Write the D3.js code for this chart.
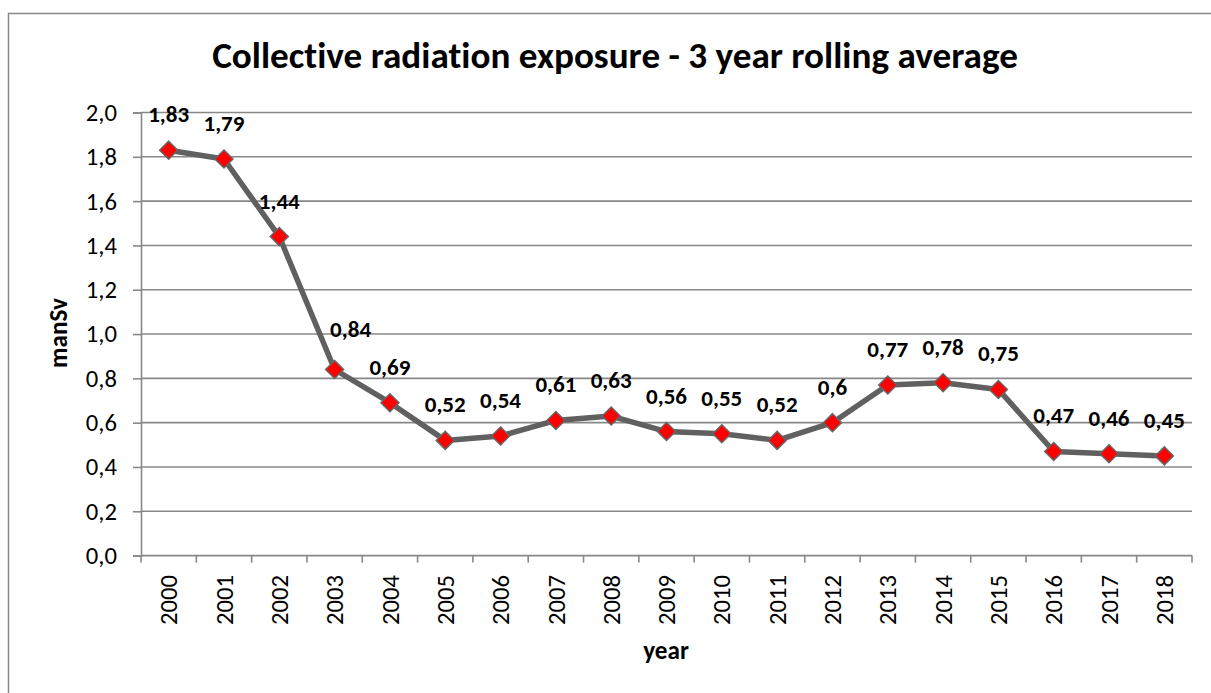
<!DOCTYPE html>
<html>
<head>
<meta charset="utf-8">
<script src="https://cdn.jsdelivr.net/npm/d3@7"></script>
<style>
  html, body { margin: 0; padding: 0; background: #fff; }
  svg { display: block; }
  text { font-family: Carlito, Lato, "Open Sans", sans-serif; fill: #000; font-variant-ligatures: none; }
</style>
</head>
<body>
<svg id="chart" width="1211" height="693"></svg>
<script>
const years = ["2000","2001","2002","2003","2004","2005","2006","2007","2008","2009",
               "2010","2011","2012","2013","2014","2015","2016","2017","2018"];
const values = [1.83, 1.79, 1.44, 0.84, 0.69, 0.52, 0.54, 0.61, 0.63, 0.56,
                0.55, 0.52, 0.6, 0.77, 0.78, 0.75, 0.47, 0.46, 0.45];
const yTicks = [0, 0.2, 0.4, 0.6, 0.8, 1.0, 1.2, 1.4, 1.6, 1.8, 2.0];
const titleText = "Collective radiation exposure - 3 year rolling average";
const yTitle = "manSv";
const xTitle = "year";

const svg = d3.select("#chart");
const gridColor = "#888888";
const lineColor = "#606060";

// font size that makes a sample string reach a given width
function fitSize(sample, weight, targetW) {
  const t = svg.append("text").attr("font-size", 20).attr("font-weight", weight).text(sample);
  const w = t.node().getComputedTextLength();
  t.remove();
  return 20 * targetW / w;
}
const tickSize = fitSize("2000", "normal", 50);
const labelSize = fitSize("1,83", "bold", 41);
const axisTitleSize = fitSize("manSv", "bold", 70);

// outer frame (right and bottom edges lie outside the picture)
svg.append("rect").attr("x", 8.5).attr("y", 13.5).attr("width", 1400).attr("height", 900)
  .attr("fill", "none").attr("stroke", gridColor).attr("stroke-width", 1.5);

const x = d3.scaleBand().domain(years).range([141, 1192]).padding(0);
const y = d3.scaleLinear().domain([0, 2]).range([555.6, 112.5]);
const fmt = v => d3.format(".1f")(v).replace(".", ",");

// gridlines
svg.append("g").selectAll("line").data(yTicks.filter(d => d > 0)).join("line")
  .attr("x1", 141).attr("x2", 1192)
  .attr("y1", d => y(d)).attr("y2", d => y(d))
  .attr("stroke", gridColor).attr("stroke-width", 1.6);

// y axis
const yAxis = svg.append("g").attr("transform", "translate(141,0)")
  .call(d3.axisLeft(y).tickValues(yTicks).tickFormat(fmt).tickSize(8).tickPadding(16));
yAxis.select(".domain").attr("stroke", gridColor).attr("stroke-width", 1.6);
yAxis.selectAll(".tick line").attr("stroke", gridColor).attr("stroke-width", 1.6);
yAxis.selectAll(".tick text").attr("font-size", tickSize).attr("font-family", "Carlito, Lato, sans-serif").attr("fill", "#000");

// x axis: baseline + ticks at category boundaries
const xg = svg.append("g");
xg.append("line").attr("x1", 141).attr("x2", 1192).attr("y1", y(0)).attr("y2", y(0))
  .attr("stroke", gridColor).attr("stroke-width", 1.6);
const bounds = years.map(d => x(d)).concat([x.range()[1]]);
xg.selectAll("line.tk").data(bounds).join("line").attr("class", "tk")
  .attr("x1", d => d).attr("x2", d => d).attr("y1", y(0)).attr("y2", y(0) + 7)
  .attr("stroke", gridColor).attr("stroke-width", 1.6);
xg.selectAll("text").data(years).join("text")
  .attr("transform", d => `translate(${x(d) + x.bandwidth() / 2},575) rotate(-90)`)
  .attr("text-anchor", "end").attr("dy", "0.35em")
  .attr("font-size", tickSize).text(d => d);

// line
const cx = d => x(d) + x.bandwidth() / 2;
svg.append("path").datum(values)
  .attr("d", d3.line().x((d, i) => cx(years[i])).y(d => y(d)))
  .attr("fill", "none").attr("stroke", lineColor).attr("stroke-width", 5.5)
  .attr("stroke-linejoin", "round");

// markers
svg.append("g").selectAll("path").data(values).join("path")
  .attr("transform", (d, i) => `translate(${cx(years[i])},${y(d)})`)
  .attr("d", "M0,-9L9,0L0,9L-9,0Z")
  .attr("fill", "#ff0000").attr("stroke", "#666666").attr("stroke-width", 1.5);

// data labels
const labelShift = { "2003": [16, -4] };
svg.append("g").selectAll("text").data(values).join("text")
  .attr("x", (d, i) => cx(years[i]) + (labelShift[years[i]] ? labelShift[years[i]][0] : 0))
  .attr("y", (d, i) => y(d) - 28 + (labelShift[years[i]] ? labelShift[years[i]][1] : 0))
  .attr("text-anchor", "middle").attr("font-weight", "bold").attr("font-size", labelSize)
  .text(d => String(d).replace(".", ","));

// title, fitted to the reference width
const title = svg.append("text").attr("x", 615).attr("y", 68)
  .attr("text-anchor", "middle").attr("font-weight", "bold").attr("font-size", 32)
  .text(titleText);
const tw = title.node().getComputedTextLength();
title.attr("font-size", 32 * 806 / tw);

// axis titles
svg.append("text").attr("transform", "translate(67,333) rotate(-90)")
  .attr("text-anchor", "middle").attr("font-weight", "bold").attr("font-size", axisTitleSize)
  .text(yTitle);
svg.append("text").attr("x", 666).attr("y", 659)
  .attr("text-anchor", "middle").attr("font-weight", "bold").attr("font-size", axisTitleSize)
  .text(xTitle);
</script>
</body>
</html>
